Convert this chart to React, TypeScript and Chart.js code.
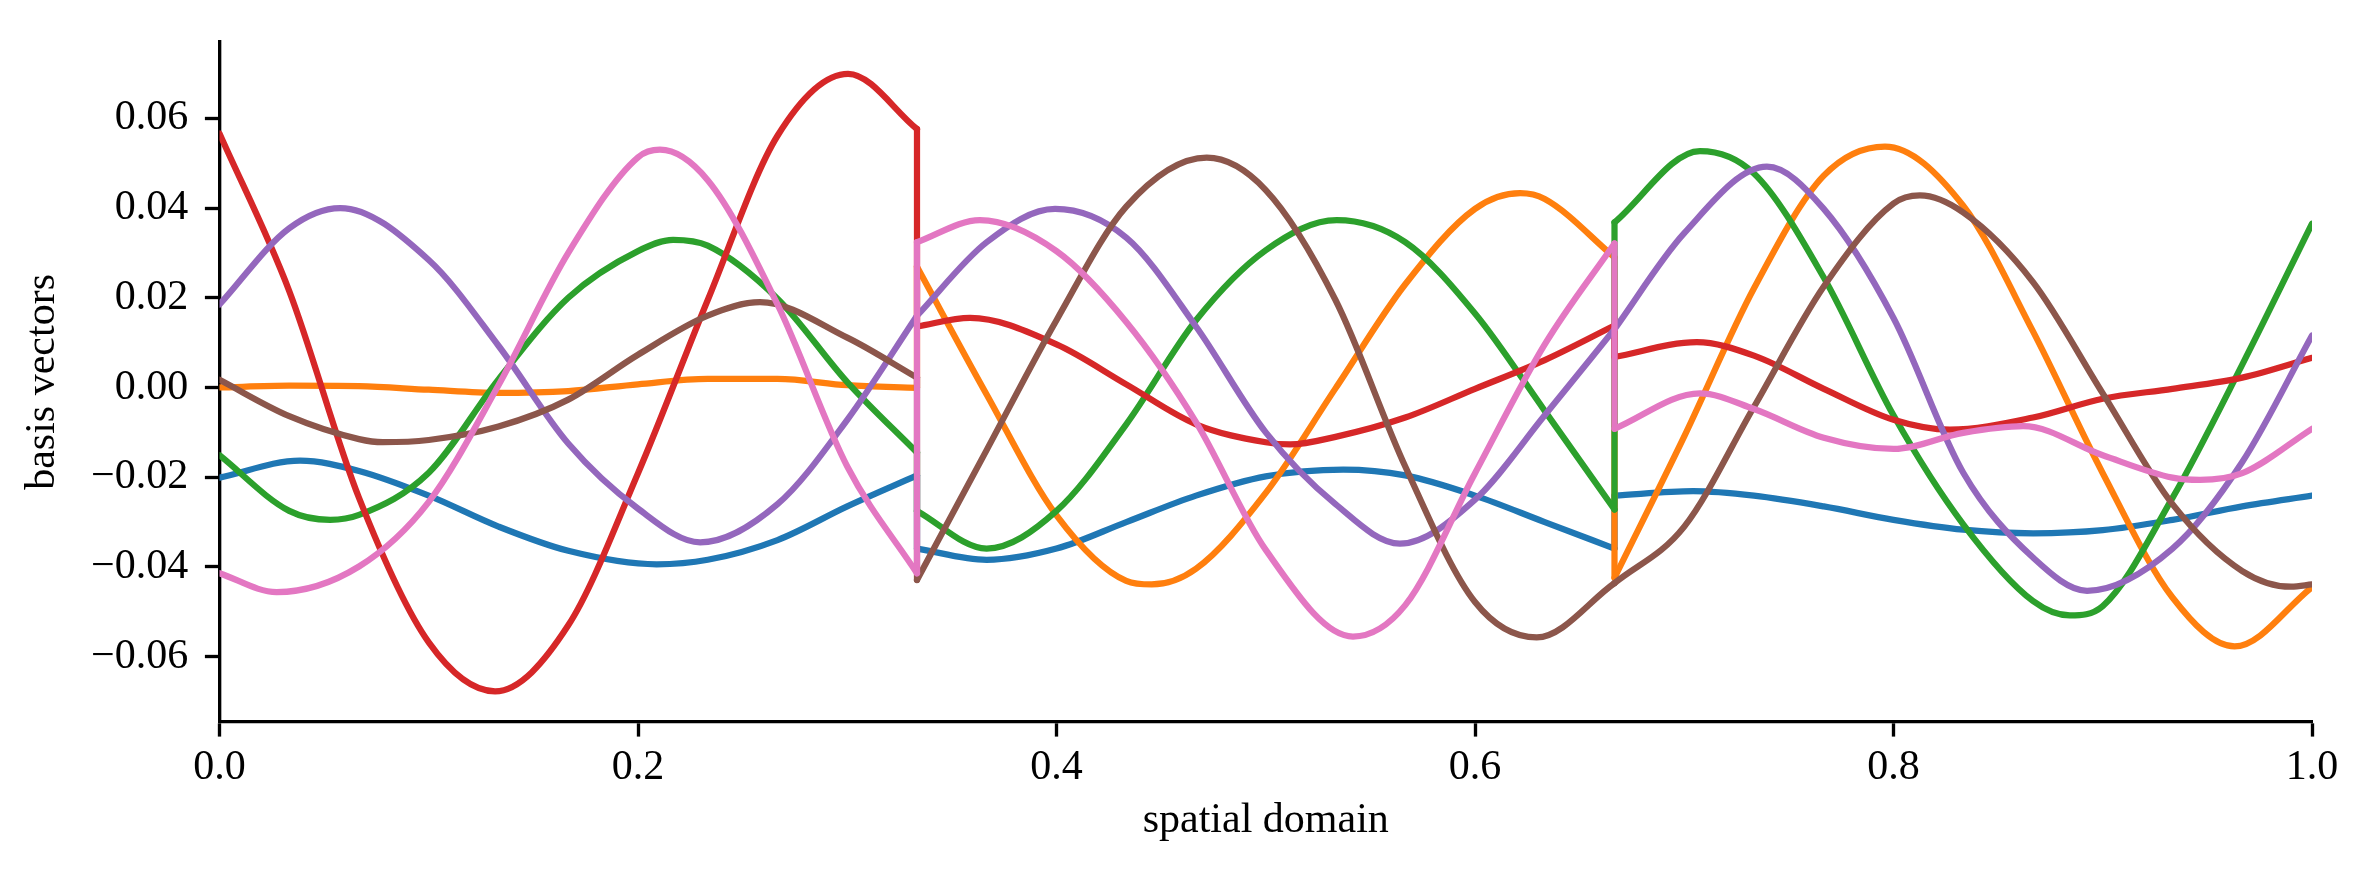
import React, { useEffect, useRef } from "react";
import { Chart, registerables } from "chart.js";

Chart.register(...registerables);

// Sample positions along the spatial domain (three elements, duplicated at the element interfaces 1/3 and 2/3)
const xValues = [
  0.0, 0.03333, 0.06667, 0.1, 0.13333, 0.16667, 0.2, 0.23333, 0.26667, 0.3, 0.33333,
  0.33333, 0.36667, 0.4, 0.43333, 0.46667, 0.5, 0.53333, 0.56667, 0.6, 0.63333, 0.66667,
  0.66667, 0.7, 0.73333, 0.76667, 0.8, 0.83333, 0.86667, 0.9, 0.93333, 0.96667, 1.0,
];

const blueValues = [
  -0.0201, -0.0164, -0.0186, -0.0241, -0.031, -0.0364, -0.0392, -0.0384, -0.034, -0.0265, -0.0196,
  -0.0359, -0.0384, -0.0359, -0.03, -0.0241, -0.0198, -0.0183, -0.0196, -0.0241, -0.03, -0.0359,
  -0.0241, -0.0231, -0.0241, -0.0265, -0.0295, -0.0317, -0.0325, -0.0318, -0.0295, -0.0265, -0.0241,
];
const orangeValues = [
  0.0, 0.0004, 0.0003, -0.0005, -0.0012, -0.0008, 0.0007, 0.0019, 0.0019, 0.0005, -0.0001,
  0.0269, -0.0016, -0.0285, -0.0431, -0.0404, -0.0235, -0.0002, 0.023, 0.0398, 0.042, 0.029,
  -0.0424, -0.0109, 0.0221, 0.0472, 0.0537, 0.0405, 0.0125, -0.0191, -0.0468, -0.0577, -0.0445,
];
const greenValues = [
  -0.0151, -0.0275, -0.0284, -0.019, 0.0018, 0.02, 0.0304, 0.0316, 0.0198, 0.0012, -0.0145,
  -0.0275, -0.0359, -0.0275, -0.0082, 0.015, 0.0306, 0.0373, 0.0324, 0.0165, -0.0052, -0.0272,
  0.0368, 0.0524, 0.0477, 0.0245, -0.0062, -0.0305, -0.0476, -0.0487, -0.0246, 0.0051, 0.0365,
];
const redValues = [
  0.0566, 0.0215, -0.0246, -0.0568, -0.0676, -0.053, -0.0191, 0.0195, 0.0561, 0.0702, 0.0576,
  0.0136, 0.0152, 0.0096, 0.0007, -0.0082, -0.0122, -0.011, -0.0067, -0.0003, 0.0061, 0.0138,
  0.0068, 0.0099, 0.0071, -0.0003, -0.0072, -0.0093, -0.0067, -0.0025, -0.0003, 0.0022, 0.0066,
];
const purpleValues = [
  0.0185, 0.0355, 0.0393, 0.0284, 0.0093, -0.0125, -0.027, -0.0345, -0.026, -0.0072, 0.016,
  0.016, 0.0324, 0.0398, 0.0334, 0.0136, -0.01, -0.026, -0.0348, -0.025, -0.0062, 0.013,
  0.013, 0.0344, 0.0487, 0.0398, 0.0155, -0.019, -0.0379, -0.0451, -0.0359, -0.0166, 0.0116,
];
const brownValues = [
  0.0017, -0.0064, -0.0115, -0.0117, -0.0087, -0.0027, 0.0073, 0.016, 0.019, 0.0111, 0.0022,
  -0.0429, -0.0139, 0.015, 0.0403, 0.051, 0.044, 0.0195, -0.0176, -0.0478, -0.0554, -0.0436,
  -0.0436, -0.031, -0.0043, 0.0225, 0.041, 0.039, 0.0235, -0.0013, -0.026, -0.0409, -0.0439,
];
const pinkValues = [
  -0.0414, -0.0455, -0.0399, -0.0255, 0.0005, 0.03, 0.0513, 0.0462, 0.0185, -0.0176, -0.0414,
  0.0324, 0.0373, 0.0304, 0.0146, -0.0077, -0.0362, -0.0542, -0.0485, -0.0191, 0.0096, 0.0321,
  -0.0092, -0.0015, -0.0048, -0.0112, -0.0137, -0.0101, -0.0087, -0.0151, -0.0201, -0.0191, -0.0092,
];

// Turning points: [x, y]
const blueExtrema = [[0.0385, -0.0163], [0.2089, -0.0394], [0.3666, -0.0384], [0.537, -0.0183], [0.7042, -0.0231], [0.8667, -0.0325]];
const orangeExtrema = [[0.4455, -0.0439], [0.6216, 0.0433], [0.7959, 0.0537], [0.963, -0.0577]];
const greenExtrema = [[0.0529, -0.0295], [0.2168, 0.0329], [0.3666, -0.0359], [0.5339, 0.0373], [0.7075, 0.0527], [0.8843, -0.0508]];
const redExtrema = [[0.1317, -0.0677], [0.3004, 0.0699], [0.3587, 0.0155], [0.5116, -0.0127], [0.706, 0.0101], [0.827, -0.0094]];
const purpleExtrema = [[0.0577, 0.04], [0.2297, -0.0345], [0.3993, 0.0398], [0.5641, -0.0348], [0.7395, 0.0492], [0.8925, -0.0453]];
const brownExtrema = [[0.078, -0.0122], [0.2583, 0.019], [0.4718, 0.0512], [0.6295, -0.0557], [0.8126, 0.0428], [0.99, -0.0444]];
const pinkExtrema = [[0.0273, -0.0456], [0.2105, 0.053], [0.3634, 0.0373], [0.5417, -0.0555], [0.7075, -0.0013], [0.862, -0.0086], [0.9465, -0.0206]];

const seriesValues = [blueValues, orangeValues, greenValues, redValues, purpleValues, brownValues, pinkValues];
const seriesExtrema = [blueExtrema, orangeExtrema, greenExtrema, redExtrema, purpleExtrema, brownExtrema, pinkExtrema];
const seriesColors = ["#1f77b4", "#ff7f0e", "#2ca02c", "#d62728", "#9467bd", "#8c564b", "#e377c2"];

// index ranges of the three elements inside each series array
const segmentRanges = [
  [0, 10],
  [11, 21],
  [22, 32],
];
const segmentBounds = [0, 1 / 3, 2 / 3, 1];

const xTickStep = 0.2;
const yTickStep = 0.02;
const yMin = -0.07455;
const yMax = 0.07704;
const xTitle = "spatial domain";
const yTitle = "basis vectors";

const FONT = "'Liberation Serif', 'Times New Roman', serif";

export default function App() {
  const ref = useRef<HTMLCanvasElement>(null);

  useEffect(() => {
    document.body.style.margin = "0";
    const canvas = ref.current;
    if (!canvas) return;

    const datasets: any[] = [];
    seriesValues.forEach((vals, si) => {
      const color = seriesColors[si];
      const common = {
        borderColor: color,
        backgroundColor: color,
        borderWidth: 6.25,
        pointRadius: 0,
        fill: false,
        clip: 0,
        order: 20 - si,
        borderCapStyle: "round",
        borderJoinStyle: "round",
      };
      segmentRanges.forEach(([a, b], segIdx) => {
        let pts: { x: number; y: number }[] = [];
        for (let j = a; j <= b; j++) pts.push({ x: xValues[j], y: vals[j] });
        const lo = segmentBounds[segIdx];
        const hi = segmentBounds[segIdx + 1];
        seriesExtrema[si].forEach(([ex, ey]) => {
          if (ex <= lo || ex >= hi) return;
          let best = -1;
          let bestD = Infinity;
          pts.forEach((p, k) => {
            const d = Math.abs(p.x - ex);
            if (d < bestD) {
              bestD = d;
              best = k;
            }
          });
          const isEnd = best === 0 || best === pts.length - 1;
          if (bestD < 0.0095 && !isEnd) pts[best] = { x: ex, y: ey };
          else pts.push({ x: ex, y: ey });
        });
        pts.sort((p, q) => p.x - q.x);
        datasets.push({ ...common, data: pts, cubicInterpolationMode: "monotone" });
      });
      // vertical connectors at the element interfaces
      const jumps = [
        { x: xValues[10], y: vals[10] },
        { x: xValues[11], y: vals[11] },
        { x: 0.5, y: null },
        { x: xValues[21], y: vals[21] },
        { x: xValues[22], y: vals[22] },
      ];
      datasets.push({ ...common, data: jumps, tension: 0, spanGaps: false });
    });

    const tickFont = { family: FONT, size: 42 };

    const chart = new Chart(canvas, {
      type: "line",
      data: { datasets },
      options: {
        animation: false,
        responsive: false,
        devicePixelRatio: 1,
        events: [],
        layout: { padding: { top: 28, right: 55, left: 0, bottom: 0 } },
        plugins: {
          legend: { display: false },
          tooltip: { enabled: false },
        },
        scales: {
          x: {
            type: "linear",
            min: 0,
            max: 1,
            z: 1,
            afterFit: (s: any) => {
              s.height = 150;
            },
            border: { display: true, color: "#000", width: 3.33 },
            grid: {
              display: true,
              drawOnChartArea: false,
              drawTicks: true,
              tickLength: 14.6,
              tickWidth: 3.33,
              tickColor: "#000",
            },
            ticks: {
              stepSize: xTickStep,
              color: "#000",
              font: tickFont,
              padding: 6,
              maxRotation: 0,
              autoSkip: false,
              callback: (v: any) => Number(v).toFixed(1),
            },
            title: {
              display: true,
              text: xTitle,
              color: "#000",
              font: tickFont,
              padding: { top: 0, bottom: 26 },
            },
          },
          y: {
            type: "linear",
            min: yMin,
            max: yMax,
            z: 1,
            afterFit: (s: any) => {
              s.width = 219.5;
            },
            border: { display: true, color: "#000", width: 3.33 },
            grid: {
              display: true,
              drawOnChartArea: false,
              drawTicks: true,
              tickLength: 14.6,
              tickWidth: 3.33,
              tickColor: "#000",
            },
            ticks: {
              stepSize: yTickStep,
              includeBounds: false,
              color: "#000",
              font: tickFont,
              padding: 16.6,
              autoSkip: false,
              callback: (v: any) => {
                const n = Number(v);
                if (Math.abs(n) < 1e-9) return "0.00";
                const s = Math.abs(n).toFixed(2);
                return n < 0 ? "\u2212" + s : s;
              },
            },
            title: {
              display: true,
              text: yTitle,
              color: "#000",
              font: tickFont,
              padding: { top: 17.7, bottom: 0 },
            },
          },
        },
      } as any,
    });

    return () => chart.destroy();
  }, []);

  return <canvas ref={ref} width={2367} height={872} style={{ display: "block" }} />;
}
